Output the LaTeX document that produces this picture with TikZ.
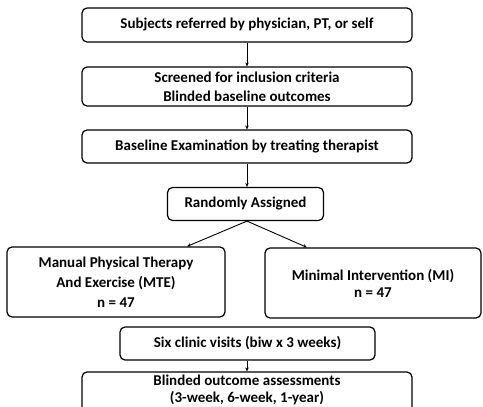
\documentclass[tikz,border=0pt]{standalone}
\usepackage{fontspec}
\setmainfont{Carlito}
\usetikzlibrary{arrows.meta}
\begin{document}
\begin{tikzpicture}[x=1pt,y=-1pt,
  box/.style={draw,rounded corners=5pt,line width=1.2pt,align=center,font=\bfseries\fontsize{15}{18}\selectfont,inner sep=0pt},
  arr/.style={-{Stealth[length=4pt,width=3.5pt]},line width=0.9pt}]
\useasboundingbox (0,0) rectangle (483,407);
\begin{scope}
\clip (0,0) rectangle (483,407);
\node[box,minimum width=330pt,minimum height=34pt] (b1) at (247,25) {Subjects referred by physician, PT, or self};
\node[box,minimum width=330pt,minimum height=39pt,font=\bfseries\fontsize{15}{19}\selectfont] (b2) at (247,86.5) {Screened for inclusion criteria\\Blinded baseline outcomes};
\node[box,minimum width=330pt,minimum height=33pt] (b3) at (247,146.5) {Baseline Examination by treating therapist};
\node[box,minimum width=156pt,minimum height=33pt] (b4) at (245.5,204) {Randomly Assigned};
\node[box,minimum width=218pt,minimum height=70pt,font=\bfseries\fontsize{15}{20}\selectfont] (mte) at (116,282) {Manual Physical Therapy\\And Exercise (MTE)\\n = 47};
\node[box,minimum width=216pt,minimum height=70pt,font=\bfseries\fontsize{15}{17}\selectfont] (mi) at (373,283) {Minimal Intervention (MI)\\n = 47};
\node[box,minimum width=255pt,minimum height=33pt] (b6) at (247.5,343.5) {Six clinic visits (biw x 3 weeks)};
\node[box,minimum width=330pt,minimum height=50pt,text depth=17pt,font=\bfseries\fontsize{15}{16.5}\selectfont] (b7) at (247,397) {Blinded outcome assessments\\(3-week, 6-week, 1-year)};
\draw[arr] (b1.south -| 247,0) -- (b2.north -| 247,0);
\draw[arr] (b2.south -| 247,0) -- (b3.north -| 247,0);
\draw[arr] (b3.south -| 247,0) -- (b4.north -| 247,0);
\draw[arr] (b4.south -| 247,0) -- (mte.north -| 187,0);
\draw[arr] (b4.south -| 247,0) -- (mi.north -| 307,0);
\draw[arr] (b6.south -| 247,0) -- (b7.north -| 247,0);
\end{scope}
\end{tikzpicture}
\end{document}
